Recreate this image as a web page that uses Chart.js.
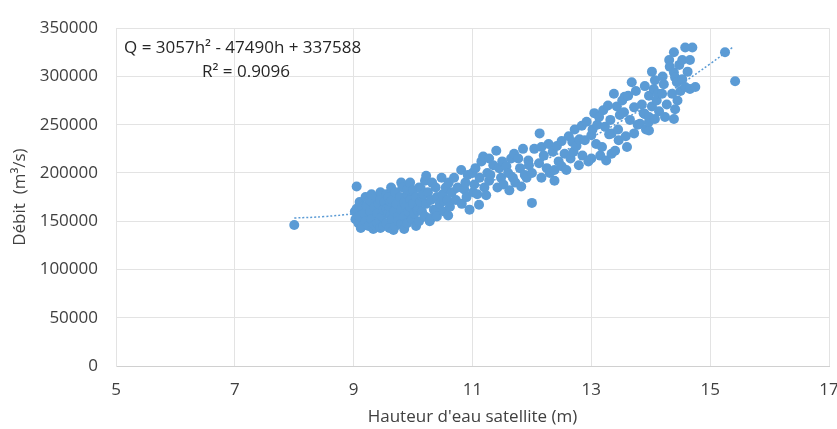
<!DOCTYPE html>
<html>
<head>
<meta charset="utf-8">
<script src="https://cdn.jsdelivr.net/npm/chart.js@4/dist/chart.umd.min.js"></script>
<style>
  body { margin: 0; background: #fff; }
  canvas { display: block; }
</style>
</head>
<body>
<canvas id="debitChart" width="837" height="429"></canvas>
<script>
// hauteur d'eau satellite (m) et débit (m3/s)
const hauteur = [
  8.0,
  9.02, 9.03, 9.05, 9.05, 9.08, 9.1, 9.1, 9.12, 9.15, 9.15, 9.18, 9.2, 9.2,
  9.22, 9.25, 9.27, 9.28, 9.3, 9.3, 9.3, 9.33, 9.35, 9.36, 9.38, 9.4, 9.4, 9.42, 9.44, 9.45, 9.45, 9.45, 9.48, 9.5, 9.5,
  9.52, 9.55, 9.55, 9.55, 9.58, 9.58, 9.6, 9.6, 9.62, 9.62, 9.63, 9.65, 9.65, 9.67, 9.68, 9.7, 9.7, 9.72, 9.75, 9.75, 9.78, 9.8, 9.8, 9.8,
  9.82, 9.85, 9.85, 9.85, 9.88, 9.9, 9.9, 9.9, 9.92, 9.95, 9.95, 9.95, 9.98, 10.0, 10.0, 10.02, 10.05, 10.05, 10.08, 10.08, 10.1, 10.1, 10.12, 10.13, 10.15, 10.15, 10.18, 10.2, 10.2,
  10.22, 10.22, 10.25, 10.28, 10.3, 10.3, 10.32, 10.35, 10.38, 10.39, 10.4, 10.4, 10.45, 10.48, 10.5, 10.52, 10.52, 10.55, 10.58, 10.59, 10.6,
  10.62, 10.65, 10.69, 10.72, 10.75, 10.81, 10.82, 10.86, 10.88, 10.9, 10.92, 10.95, 11.0, 11.01,
  11.03, 11.05, 11.08, 11.11, 11.12, 11.15, 11.18, 11.2, 11.23, 11.25, 11.28, 11.28, 11.3, 11.35, 11.4, 11.42, 11.45, 11.48, 11.5,
  11.52, 11.57, 11.6, 11.62, 11.65, 11.68, 11.7, 11.72, 11.77, 11.8, 11.82, 11.85, 11.88, 11.91, 11.94, 11.95, 12.0, 12.0,
  12.04, 12.13, 12.12, 12.16, 12.16, 12.2, 12.25, 12.28, 12.3, 12.35, 12.38, 12.38, 12.42, 12.45, 12.5, 12.5,
  12.55, 12.58, 12.62, 12.65, 12.68, 12.7, 12.72, 12.75, 12.79, 12.8, 12.84, 12.85, 12.89, 12.92, 12.95, 13.0, 13.0,
  13.02, 13.05, 13.08, 13.1, 13.13, 13.15, 13.18, 13.2, 13.23, 13.25, 13.28, 13.3, 13.32, 13.34, 13.34, 13.38, 13.4, 13.43, 13.45, 13.46, 13.48,
  13.52, 13.55, 13.56, 13.58, 13.6, 13.62, 13.65, 13.68, 13.72, 13.72, 13.75, 13.78, 13.82, 13.85, 13.88, 13.9, 13.9, 13.92, 13.97, 13.97, 13.97, 13.97,
  14.02, 14.02, 14.05, 14.07, 14.07, 14.1, 14.12, 14.14, 14.19, 14.2, 14.22, 14.24, 14.27, 14.31, 14.32, 14.36, 14.39, 14.39, 14.39, 14.41, 14.41,
  14.44, 14.45, 14.48, 14.5, 14.53, 14.53, 14.58, 14.58, 14.62, 14.66, 14.66, 14.7, 14.75,
  15.25, 15.42
];
const debit = [
  146000,
  160000, 152000, 186000, 163000, 148000, 155000, 170000, 143000, 165000, 145000, 158000, 150000, 175000,
  166000, 145000, 172000, 160000, 170000, 152000, 178000, 142000, 165000, 146000, 175000, 148000, 158000, 168000, 151000, 143000, 180000, 172000, 155000, 162000, 145000,
  170000, 148000, 178000, 163000, 158000, 175000, 165000, 143000, 156000, 170000, 185000, 152000, 172000, 141000, 160000, 145000, 180000, 168000, 155000, 150000, 175000, 162000, 147000, 190000,
  185000, 170000, 155000, 142000, 165000, 178000, 148000, 183000, 160000, 172000, 190000, 165000, 152000, 168000, 182000, 158000, 175000, 145000, 163000, 161000, 150000, 185000, 170000, 184000, 160000, 176000, 178000, 155000, 192000,
  168000, 197000, 180000, 150000, 172000, 153000, 190000, 162000, 185000, 161000, 175000, 155000, 168000, 195000, 178000, 160000, 171000, 185000, 172000, 156000, 190000,
  165000, 180000, 195000, 172000, 185000, 203000, 168000, 183000, 190000, 175000, 198000, 162000, 200000, 180000,
  188000, 205000, 178000, 167000, 195000, 212000, 217000, 185000, 177000, 200000, 215000, 192000, 198000, 208000, 223000, 185000, 205000, 195000, 212000,
  188000, 207000, 200000, 182000, 215000, 195000, 220000, 190000, 215000, 205000, 186000, 225000, 198000, 195000, 213000, 208000, 169000, 200000,
  225000, 241000, 210000, 227000, 195000, 218000, 205000, 230000, 200000, 222000, 203000, 192000, 228000, 212000, 233000, 207000,
  220000, 203000, 238000, 215000, 232000, 222000, 245000, 228000, 208000, 235000, 249000, 218000, 234000, 253000, 212000, 239000, 215000,
  245000, 262000, 230000, 250000, 258000, 218000, 227000, 265000, 248000, 213000, 270000, 240000, 255000, 241000, 220000, 282000, 223000, 269000, 245000, 234000, 260000,
  275000, 263000, 279000, 238000, 227000, 280000, 255000, 294000, 241000, 268000, 285000, 250000, 251000, 271000, 262000, 290000, 261000, 245000, 258000, 244000, 280000, 253000,
  305000, 269000, 287000, 256000, 296000, 275000, 282000, 264000, 282000, 300000, 292000, 258000, 271000, 317000, 310000, 282000, 325000, 304000, 256000, 299000, 266000,
  294000, 275000, 312000, 285000, 317000, 297000, 330000, 289000, 305000, 317000, 287000, 330000, 289000,
  325000, 295000
];
// courbe de tendance (valeurs de l'équation affichée)
const trendH = [8, 8.5, 9, 9.5, 10, 10.5, 11, 11.5, 12, 12.5, 13, 13.5, 14, 14.5, 15, 15.4];
const trendQ = [153316, 154791, 157795, 162327, 168388, 175977, 185095, 195741, 207916, 221619, 236851, 253611, 271900, 291717, 313063, 331242];

const xTicks = [5, 7, 9, 11, 13, 15, 17];
const yTicks = [0, 50000, 100000, 150000, 200000, 250000, 300000, 350000];
const equationText = ['Q = 3057h\u00B2 - 47490h + 337588', 'R\u00B2 = 0.9096'];

const blue = '#5b9bd5';
const textColor = '#404040';
const font = { family: 'Open Sans', size: 17 };

const points = hauteur.map((h, i) => ({ x: h, y: debit[i] }));
const trend = trendH.map((h, i) => ({ x: h, y: trendQ[i] }));

// texte de l'équation en haut à gauche
const equationPlugin = {
  id: 'equation',
  afterDraw(chart) {
    const ctx = chart.ctx;
    ctx.save();
    ctx.font = '17px "Open Sans"';
    ctx.fillStyle = '#262626';
    ctx.textBaseline = 'middle';
    ctx.textAlign = 'left';
    ctx.fillText(equationText[0], 124, 48);
    ctx.fillText(equationText[1], 202, 72);
    ctx.restore();
  }
};

new Chart(document.getElementById('debitChart').getContext('2d'), {
  type: 'scatter',
  data: {
    datasets: [
      {
        data: points,
        backgroundColor: blue,
        borderWidth: 0,
        pointRadius: 5,
        pointHoverRadius: 5
      },
      {
        type: 'line',
        data: trend,
        borderColor: blue,
        borderWidth: 1.5,
        borderDash: [2, 2],
        pointRadius: 0,
        tension: 0.4,
        fill: false
      }
    ]
  },
  options: {
    responsive: false,
    animation: false,
    layout: { padding: { top: 24, right: 8, left: 0, bottom: 0 } },
    plugins: { legend: { display: false }, tooltip: { enabled: false } },
    scales: {
      x: {
        type: 'linear',
        min: 5, max: 17,
        afterBuildTicks: s => { s.ticks = xTicks.map(v => ({ value: v })); },
        afterFit: s => { s.height = 63; s.paddingRight = 0; s.paddingLeft = 0; },
        ticks: { font: font, color: textColor, padding: 14, callback: v => String(v) },
        grid: { color: '#e3e3e3', drawTicks: false },
        border: { color: '#d0d0d0' },
        title: { display: true, text: "Hauteur d'eau satellite (m)", font: font, color: textColor, padding: { top: 0, bottom: 2 } }
      },
      y: {
        min: 0, max: 350000,
        afterBuildTicks: s => { s.ticks = yTicks.map(v => ({ value: v })); },
        afterFit: s => { s.width = 116; },
        ticks: { font: font, color: textColor, padding: 18, callback: v => String(v) },
        grid: { color: '#e3e3e3', drawTicks: false },
        border: { color: '#e3e3e3' },
        title: { display: true, text: 'Débit  (m³/s)', font: font, color: textColor, padding: { top: 10, bottom: 0 } }
      }
    }
  },
  plugins: [equationPlugin]
});
</script>
</body>
</html>
